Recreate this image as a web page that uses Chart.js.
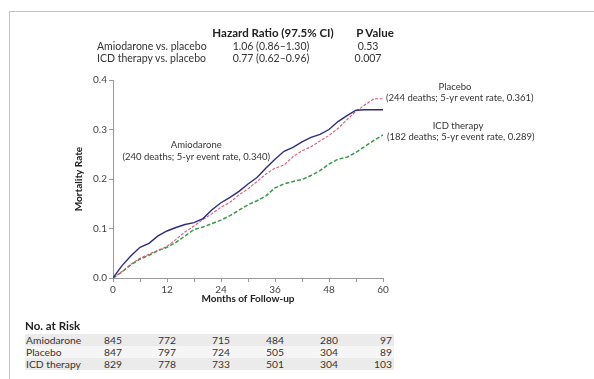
<!DOCTYPE html>
<html>
<head>
<meta charset="utf-8">
<script src="https://cdn.jsdelivr.net/npm/chart.js@4.4.1/dist/chart.umd.min.js"></script>
<style>
  html, body { margin: 0; padding: 0; background: #fff; }
  #wrap { position: relative; width: 594px; height: 379px; overflow: hidden; font-family: Lato, "Open Sans", sans-serif; color: #333; font-size: 9.5px; }
  #frame { position: absolute; left: 9px; top: 11px; width: 600px; height: 400px; border-top: 1.5px solid #c4c4c4; border-left: 1.5px solid #c4c4c4; }
  canvas { position: absolute; left: 0; top: 0; }
  .t { position: absolute; white-space: nowrap; line-height: 1; }
  .b { font-weight: bold; color: #222; }
  .c { transform: translateX(-50%); }
  .r { transform: translateX(-100%); }
  .hr { font-size: 10.5px; }
  .hh { font-size: 11.5px; }
  .rk { font-size: 10.3px; }
  .band { position: absolute; left: 25px; width: 369px; height: 12px; }
</style>
</head>
<body>
<div id="wrap">
  <div id="frame"></div>
  <canvas id="km" width="594" height="379"></canvas>
  <div id="overlay"></div>
</div>
<script>
'use strict';

// months of follow-up and cumulative mortality
const months      = [0, 2, 4, 6, 8, 10, 12, 14, 16, 18, 20, 22, 24, 26, 28, 30, 32, 34, 36, 38, 40, 42, 44, 46, 48, 50, 52, 54, 56, 58, 60];
const amiodarone  = [0, 0.025, 0.045, 0.062, 0.070, 0.085, 0.095, 0.102, 0.108, 0.112, 0.120, 0.138, 0.152, 0.163, 0.175, 0.190, 0.203, 0.222, 0.240, 0.256, 0.264, 0.275, 0.284, 0.290, 0.300, 0.316, 0.328, 0.339, 0.340, 0.340, 0.340];
const placebo     = [0, 0.013, 0.028, 0.040, 0.048, 0.056, 0.064, 0.078, 0.093, 0.105, 0.118, 0.130, 0.143, 0.153, 0.168, 0.180, 0.195, 0.210, 0.222, 0.228, 0.245, 0.257, 0.265, 0.277, 0.288, 0.302, 0.320, 0.337, 0.350, 0.362, 0.362];
const icdTherapy  = [0, 0.012, 0.027, 0.038, 0.046, 0.055, 0.062, 0.072, 0.085, 0.098, 0.103, 0.110, 0.117, 0.126, 0.137, 0.148, 0.156, 0.166, 0.182, 0.190, 0.195, 0.199, 0.207, 0.217, 0.230, 0.240, 0.244, 0.254, 0.266, 0.278, 0.289];

const xTickLabels = [0, 12, 24, 36, 48, 60];
const yTickLabels = [0.0, 0.1, 0.2, 0.3, 0.4];

const riskGroups = ['Amiodarone', 'Placebo', 'ICD therapy'];
const riskAmio   = [845, 772, 715, 484, 280, 97];
const riskPlac   = [847, 797, 724, 505, 304, 89];
const riskIcd    = [829, 778, 733, 501, 304, 103];

const hrRows   = ['Amiodarone vs. placebo', 'ICD therapy vs. placebo'];
const hrValues = ['1.06 (0.86\u20131.30)', '0.77 (0.62\u20130.96)'];
const pValues  = ['0.53', '0.007'];

function pts(arr){ return months.map((m, i) => ({ x: m, y: arr[i] })); }

const axisColor = '#9a9a9a';
const tickFont = { family: 'Lato, "Open Sans", sans-serif', size: 10 };
const titleFont = { family: 'Lato, "Open Sans", sans-serif', size: 10, weight: 'bold' };

const chart = new Chart(document.getElementById('km'), {
  type: 'line',
  data: {
    datasets: [
      { label: 'Amiodarone', data: pts(amiodarone), borderColor: '#2c2d7c', borderWidth: 1.4, pointRadius: 0, tension: 0 },
      { label: 'Placebo', data: pts(placebo), borderColor: '#d65a78', borderWidth: 1.1, borderDash: [3, 1.5], pointRadius: 0, tension: 0 },
      { label: 'ICD therapy', data: pts(icdTherapy), borderColor: '#3a9a46', borderWidth: 1.5, borderDash: [4, 2], pointRadius: 0, tension: 0 }
    ]
  },
  options: {
    responsive: false,
    animation: false,
    devicePixelRatio: 1,
    layout: { padding: { left: 69, right: 211, top: 80, bottom: 70 } },
    plugins: { legend: { display: false }, tooltip: { enabled: false } },
    scales: {
      x: {
        type: 'linear', min: 0, max: 60,
        afterFit: (s) => { s.height = 31; },
        ticks: { stepSize: 6, autoSkip: false, maxRotation: 0, color: '#444', font: tickFont, padding: 2,
          callback: (v) => xTickLabels.includes(v) ? String(v) : '' },
        grid: { drawOnChartArea: false, color: axisColor, tickLength: 4 },
        border: { color: axisColor, width: 1 },
        title: { display: true, text: 'Months of Follow-up', color: '#222', font: titleFont, padding: { top: 2, bottom: 4 } }
      },
      y: {
        min: 0, max: 0.4,
        afterFit: (s) => { s.width = 44; },
        afterBuildTicks: (s) => { s.ticks = yTickLabels.map(v => ({ value: v })); },
        ticks: { color: '#444', font: tickFont, padding: 2, callback: (v) => Number(v).toFixed(1) },
        grid: { drawOnChartArea: false, color: axisColor, tickLength: 4 },
        border: { color: axisColor, width: 1 },
        title: { display: true, text: 'Mortality Rate', color: '#222', font: titleFont, padding: { top: 4, bottom: 4 } }
      }
    }
  }
});

// text overlays: hazard ratio table, curve labels, numbers at risk
const overlay = document.getElementById('overlay');
function addText(txt, x, y, cls){
  const d = document.createElement('div');
  d.className = 't ' + (cls || '');
  d.style.left = x + 'px'; d.style.top = y + 'px';
  d.textContent = txt;
  overlay.appendChild(d);
}

addText('Hazard Ratio (97.5% CI)', 273, 27, 'b c hh');
addText('P Value', 375, 27, 'b c hh');
hrRows.forEach((r, i) => {
  addText(r, 97, 41 + i * 12, 'hr');
  addText(hrValues[i], 271, 41 + i * 12, 'c hr');
  addText(pValues[i], 368, 41 + i * 12, 'c hr');
});

const xs = chart.scales.x, ys = chart.scales.y;
addText('Amiodarone', xs.getPixelForValue(18.5), ys.getPixelForValue(0.278), 'c');
addText('(240 deaths; 5-yr event rate, 0.340)', xs.getPixelForValue(18.5), ys.getPixelForValue(0.254), 'c');
addText('Placebo', 455, 82, 'c');
addText('(244 deaths; 5-yr event rate, 0.361)', xs.getPixelForValue(60) + 3, 93);
addText('ICD therapy', 458, 121, 'c');
addText('(182 deaths; 5-yr event rate, 0.289)', xs.getPixelForValue(60) + 4, 132);

addText('No. at Risk', 25, 320, 'b hh');
const riskRows = [riskAmio, riskPlac, riskIcd];
riskRows.forEach((row, i) => {
  const y = 335 + i * 12;
  const band = document.createElement('div');
  band.className = 'band';
  band.style.top = (y - 1) + 'px';
  band.style.background = i === 1 ? '#f6f6f6' : '#ebebeb';
  overlay.appendChild(band);
  addText(riskGroups[i], 26, y, 'rk');
  row.forEach((n, j) => addText(String(n), xs.getPixelForValue(xTickLabels[j]) + 9, y, 'r rk'));
});
</script>
</body>
</html>
